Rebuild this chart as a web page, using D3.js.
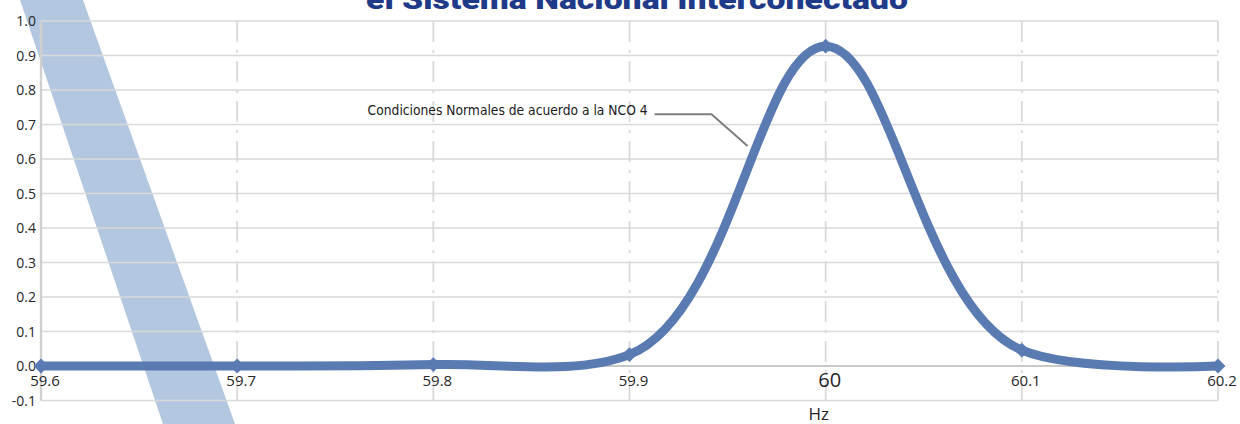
<!DOCTYPE html>
<html>
<head>
<meta charset="utf-8">
<script src="https://cdn.jsdelivr.net/npm/d3@7"></script>
<style>
  html, body { margin: 0; padding: 0; background: #ffffff; overflow: hidden; }
  svg { display: block; }
</style>
</head>
<body>
<svg id="chart" width="1240" height="424"></svg>
<script>
// ---- data ----
const hz = [59.6, 59.7, 59.8, 59.9, 60.0, 60.1, 60.2];
const probability = [0.0, 0.0, 0.004, 0.033, 0.927, 0.046, 0.0];
const xTickLabels = ["59.6", "59.7", "59.8", "59.9", "60", "60.1", "60.2"];
const yTicks = [1.0, 0.9, 0.8, 0.7, 0.6, 0.5, 0.4, 0.3, 0.2, 0.1, 0.0, -0.1];
const yTickLabels = ["1.0", "0.9", "0.8", "0.7", "0.6", "0.5", "0.4", "0.3", "0.2", "0.1", "0.0", "-0.1"];
const titleText = "el Sistema Nacional Interconectado";
const xAxisTitle = "Hz";
const annotationText = "Condiciones Normales de acuerdo a la NCO 4";
// decorative diagonal band, in data units (hz, value)
const bandHz = [59.5893, 59.6214, 59.6989, 59.6622];
const bandVal = [1.061, 1.061, -0.168, -0.168];
// annotation leader (hz, value): text end, elbow, target on curve
const leaderHz = [59.9128, 59.9418, 59.9602];
const leaderVal = [0.730, 0.730, 0.638];

// ---- scales ----
const svg = d3.select("#chart");
const x = d3.scaleLinear().domain([59.6, 60.2]).range([41, 1218]);
const y = d3.scaleLinear().domain([-0.1, 1.0]).range([400.5, 21]);

const lineColor = "#5a7ab2";
const gridColor = "#d9d9d9";

// band (behind everything)
svg.append("path")
  .attr("d", d3.line()(bandHz.map((h, i) => [x(h), y(bandVal[i])])) + "Z")
  .attr("fill", "#b4c7e0");

// horizontal gridlines
svg.append("g").selectAll("line")
  .data(yTicks.filter(v => v !== 0))
  .join("line")
  .attr("x1", x(59.6)).attr("x2", x(60.2))
  .attr("y1", d => y(d)).attr("y2", d => y(d))
  .attr("stroke", gridColor).attr("stroke-width", 1.6);

// vertical gridlines (long dash dot)
svg.append("g").selectAll("line")
  .data(hz.slice(1))
  .join("line")
  .attr("x1", d => x(d)).attr("x2", d => x(d))
  .attr("y1", y(1.0)).attr("y2", y(-0.1))
  .attr("stroke", gridColor).attr("stroke-width", 1.8)
  .attr("stroke-dasharray", "21 8 3 8");

// left axis line
svg.append("line")
  .attr("x1", x(59.6)).attr("x2", x(59.6))
  .attr("y1", y(1.0)).attr("y2", y(-0.1))
  .attr("stroke", "#d0d0d0").attr("stroke-width", 2.4);

// zero line
svg.append("line")
  .attr("x1", x(59.6)).attr("x2", x(60.2))
  .attr("y1", y(0)).attr("y2", y(0))
  .attr("stroke", "#c8c8c8").attr("stroke-width", 2.2);

// y tick labels
svg.append("g").selectAll("text")
  .data(yTicks)
  .join("text")
  .attr("x", 36)
  .attr("y", d => y(d) + 5)
  .attr("text-anchor", "end")
  .attr("font-family", "'Open Sans', 'Noto Sans', sans-serif")
  .attr("font-size", 14)
  .attr("fill", "#262626")
  .text((d, i) => yTickLabels[i]);

// x tick labels
svg.append("g").selectAll("text")
  .data(hz)
  .join("text")
  .attr("x", d => x(d) + 4)
  .attr("y", (d, i) => xTickLabels[i] === "60" ? y(0) + 21 : y(0) + 20)
  .attr("text-anchor", "middle")
  .attr("font-family", "'Open Sans', 'Noto Sans', sans-serif")
  .attr("font-size", (d, i) => xTickLabels[i] === "60" ? 20 : 15)
  .attr("fill", "#262626")
  .text((d, i) => xTickLabels[i]);

// x axis title
svg.append("text")
  .attr("x", x(60.0) - 7)
  .attr("y", 420)
  .attr("text-anchor", "middle")
  .attr("font-family", "'Open Sans', 'Noto Sans', sans-serif")
  .attr("font-size", 17)
  .attr("fill", "#262626")
  .text(xAxisTitle);

// annotation leader
svg.append("path")
  .attr("d", d3.line()(leaderHz.map((h, i) => [x(h), y(leaderVal[i])])))
  .attr("fill", "none")
  .attr("stroke", "#7f7f7f")
  .attr("stroke-width", 2);

svg.append("text")
  .attr("x", x(leaderHz[0]) - 7)
  .attr("y", y(leaderVal[0]) + 1)
  .attr("text-anchor", "end")
  .attr("font-family", "'Liberation Sans Narrow', 'DejaVu Sans Condensed', sans-serif")
  .attr("font-stretch", "condensed")
  .attr("font-size", 14)
  .attr("fill", "#1a1a1a")
  .attr("textLength", 280)
  .attr("lengthAdjust", "spacingAndGlyphs")
  .text(annotationText);

// series line
const pts = hz.map((h, i) => [x(h), y(probability[i])]);
svg.append("path")
  .attr("d", d3.line().curve(d3.curveCatmullRom.alpha(1))(pts))
  .attr("fill", "none")
  .attr("stroke", lineColor)
  .attr("stroke-width", 9)
  .attr("stroke-linejoin", "round")
  .attr("stroke-linecap", "round");

// markers (diamonds)
svg.append("g").selectAll("path")
  .data(pts)
  .join("path")
  .attr("transform", d => `translate(${d[0]},${d[1]}) rotate(45)`)
  .attr("d", d3.symbol().type(d3.symbolSquare).size(110))
  .attr("fill", lineColor);

// title (clipped at top)
svg.append("text")
  .attr("x", 637)
  .attr("y", 9)
  .attr("text-anchor", "middle")
  .attr("font-family", "Roboto, 'Liberation Sans', sans-serif")
  .attr("font-weight", 900)
  .attr("font-size", 28)
  .attr("fill", "#1f3a88")
  .attr("textLength", 542)
  .attr("lengthAdjust", "spacingAndGlyphs")
  .text(titleText);
</script>
</body>
</html>
